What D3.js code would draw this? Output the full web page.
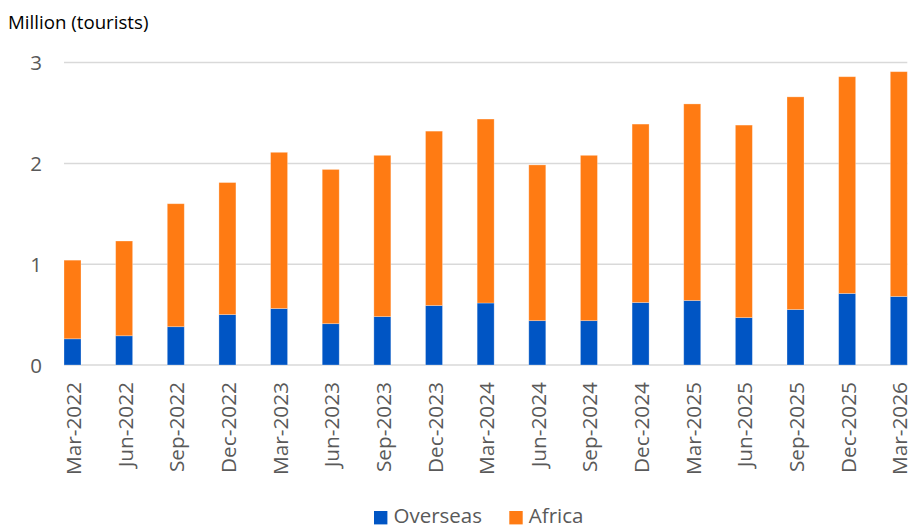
<!DOCTYPE html>
<html>
<head>
<meta charset="utf-8">
<script src="https://cdn.jsdelivr.net/npm/d3@7"></script>
<style>
  html, body { margin: 0; padding: 0; background: #fff; }
  svg { display: block; }
</style>
</head>
<body>
<svg id="chart" width="910" height="526"></svg>
<script>
const categories = ["Mar-2022","Jun-2022","Sep-2022","Dec-2022","Mar-2023","Jun-2023","Sep-2023","Dec-2023","Mar-2024","Jun-2024","Sep-2024","Dec-2024","Mar-2025","Jun-2025","Sep-2025","Dec-2025","Mar-2026"];
const overseas = [0.26,0.29,0.38,0.50,0.56,0.41,0.48,0.59,0.615,0.44,0.44,0.62,0.64,0.47,0.55,0.71,0.68];
const africa   = [0.78,0.94,1.22,1.31,1.55,1.53,1.60,1.73,1.825,1.545,1.64,1.77,1.95,1.91,2.11,2.15,2.23];
const yTicks = [0,1,2,3];
const seriesNames = ["Overseas","Africa"];
const colors = ["#0055C4","#FF7B13"];
const yTitle = "Million (tourists)";

const svg = d3.select("#chart");
const font = "'Open Sans', sans-serif";

const x = d3.scaleBand().domain(categories).range([64, 907.3]).paddingInner(0.671).paddingOuter(0);
const y = d3.scaleLinear().domain([0,3]).range([365, 62.6]);

// gridlines
svg.append("g").selectAll("line").data(yTicks).join("line")
  .attr("x1", 64).attr("x2", 907.3)
  .attr("y1", d => y(d)).attr("y2", d => y(d))
  .attr("stroke", "#D9D9D9").attr("stroke-width", 1.5);

// y axis labels
const yAxis = d3.axisLeft(y).tickValues(yTicks).tickFormat(d3.format("d")).tickSize(0).tickPadding(0);
const yg = svg.append("g").attr("transform", "translate(42,0)").call(yAxis);
yg.select(".domain").remove();
yg.selectAll("text").attr("font-family", font).attr("font-size", 20.5).attr("fill", "#595959").attr("dy","0.36em");

// stacked data
const rows = categories.map((c,i) => ({cat:c, Overseas: overseas[i], Africa: africa[i]}));
const stack = d3.stack().keys(seriesNames)(rows);

svg.append("g").selectAll("g").data(stack).join("g")
  .attr("fill", (d,i) => colors[i])
  .selectAll("rect").data(d => d).join("rect")
  .attr("x", d => x(d.data.cat))
  .attr("width", x.bandwidth())
  .attr("y", d => y(d[1]))
  .attr("height", d => y(d[0]) - y(d[1]))
  .attr("stroke", "rgba(255,255,255,0.35)").attr("stroke-width", 0.8);

// x axis labels
const xAxis = d3.axisBottom(x).tickSize(0).tickPadding(0);
const xg = svg.append("g").attr("transform", "translate(0,366)").call(xAxis);
xg.select(".domain").remove();
xg.selectAll("text")
  .attr("font-family", font).attr("font-size", 20.8).attr("fill", "#595959")
  .attr("text-anchor", "end")
  .attr("transform", "translate(1,16) rotate(-90)")
  .attr("x", 0).attr("y", 0).attr("dy", "0.36em");

// title
svg.append("text").attr("x", 8).attr("y", 28.5)
  .attr("font-family", font).attr("font-size", 18.7).attr("fill", "#000")
  .text(yTitle);

// legend
const legendX = [374, 509.3];
const lg = svg.append("g").selectAll("g").data(seriesNames).join("g")
  .attr("transform", (d,i) => `translate(${legendX[i]},0)`);
lg.append("rect").attr("x", 0).attr("y", 511).attr("width", 13.4).attr("height", 13.4)
  .attr("fill", (d,i) => colors[i]);
lg.append("text").attr("x", 19.5).attr("y", 523.3)
  .attr("font-family", font).attr("font-size", 20.5).attr("fill", "#595959")
  .text(d => d);
</script>
</body>
</html>
